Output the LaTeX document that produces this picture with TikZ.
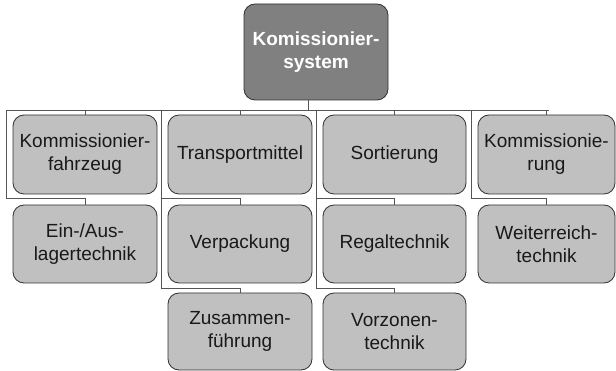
\documentclass[tikz,border=0pt]{standalone}
\usepackage{fontspec}
\setmainfont{Liberation Sans}
\definecolor{boxfill}{HTML}{C0C0C0}
\definecolor{topfill}{HTML}{808080}
\definecolor{edge}{HTML}{303030}
\definecolor{wire}{HTML}{555555}
\begin{document}
\begin{tikzpicture}[x=1pt,y=-1pt,
  box/.style={draw=edge,line width=0.8pt,fill=boxfill,rounded corners=11pt,
    align=center,inner sep=0pt,text=black!90,
    font=\fontsize{19}{23}\selectfont},
  topbox/.style={box,fill=topfill,text=white,font=\fontsize{19}{23}\selectfont\bfseries},
  wirestyle/.style={draw=wire,line width=0.8pt}]
\useasboundingbox (0,0) rectangle (616,371);

% root
\node[topbox,minimum width=144pt,minimum height=96pt] (root) at (316,52) {Komissionier-\\system};

% column 1
\node[box,minimum width=144pt,minimum height=79pt] (kf) at (85,154.5) {Kommissionier-\\fahrzeug};
\node[box,minimum width=144pt,minimum height=78pt] (ea) at (85,244) {Ein-/Aus-\\lagertechnik};
% column 2
\node[box,minimum width=144pt,minimum height=79pt] (tm) at (240,154.5) {Transportmittel};
\node[box,minimum width=144pt,minimum height=78pt] (vp) at (240,244) {Verpackung};
\node[box,minimum width=144pt,minimum height=77pt] (zf) at (240,331.5) {Zusammen-\\führung};
% column 3
\node[box,minimum width=143pt,minimum height=79pt] (so) at (394.5,154.5) {Sortierung};
\node[box,minimum width=143pt,minimum height=78pt] (rt) at (394.5,244) {Regaltechnik};
\node[box,minimum width=143pt,minimum height=77pt] (vz) at (394.5,331.5) {Vorzonen-\\technik};
% column 4
\node[box,minimum width=137pt,minimum height=79pt] (ki) at (546.5,154.5) {Kommissionie-\\rung};
\node[box,minimum width=137pt,minimum height=78pt] (wr) at (546.5,244) {Weiterreich-\\technik};

% bus and column rails
\coordinate (stem) at (308,110);
\coordinate (busL) at (6,110);
\coordinate (busR) at (549,110);
\coordinate (rail1) at (6,110);
\coordinate (rail2) at (161,110);
\coordinate (rail3) at (316,110);
\coordinate (rail4) at (471,110);

\draw[wirestyle] (root.south -| stem) -- (stem);
\draw[wirestyle] (busL) -- (busR);

% first-row drops
\draw[wirestyle] (rail1 -| kf.north) -- (kf.north);
\draw[wirestyle] (rail2 -| tm.north) -- (tm.north);
\draw[wirestyle] (rail3 -| so.north) -- (so.north);
\draw[wirestyle] (rail4 -| ki.north) -- (ki.north);

% column 1
\draw[wirestyle] (rail1) -- ++(0,88) -| (ea.north);
% column 2
\draw[wirestyle] (rail2) -- ++(0,178) -| (zf.north);
\draw[wirestyle] (rail2) ++(0,88) -| (vp.north);
% column 3
\draw[wirestyle] (rail3) -- ++(0,178) -| (vz.north);
\draw[wirestyle] (rail3) ++(0,88) -| (rt.north);
% column 4
\draw[wirestyle] (rail4) -- ++(0,88) -| (wr.north);
\end{tikzpicture}
\end{document}
